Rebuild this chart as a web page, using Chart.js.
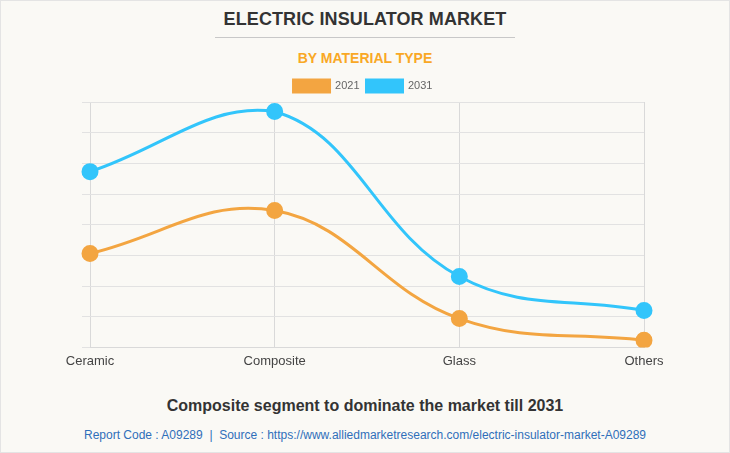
<!DOCTYPE html>
<html><head><meta charset="utf-8">
<script src="https://cdn.jsdelivr.net/npm/chart.js@4.4.0/dist/chart.umd.min.js"></script>
<style>
html,body{margin:0;padding:0;}
body{width:730px;height:453px;background:#faf9f5;position:relative;overflow:hidden;font-family:"Liberation Sans",Arial,sans-serif;}
#frame{position:absolute;left:0;top:0;width:728px;height:451px;border:1px solid #e4e4e4;}
#t1{position:absolute;top:9px;left:0;width:730px;text-align:center;font-weight:bold;font-size:18px;letter-spacing:0.1px;color:#333;}
#rule{position:absolute;top:37px;left:215px;width:300px;height:1px;background:#c8c8c8;}
#t2{position:absolute;top:50px;left:0;width:730px;text-align:center;font-weight:bold;font-size:14px;color:#f9a825;}
#wrap{position:absolute;left:0;top:73px;width:730px;height:302px;}
#t3{position:absolute;top:397px;left:0;width:730px;text-align:center;font-weight:bold;font-size:16px;color:#333;}
#t4{position:absolute;top:428px;left:0;width:730px;text-align:center;font-size:12px;color:#2f6fba;}
</style></head>
<body>
<div id="frame"></div>
<div id="t1">ELECTRIC INSULATOR MARKET</div>
<div id="rule"></div>
<div id="t2">BY MATERIAL TYPE</div>
<div id="wrap"><canvas id="c" width="730" height="302"></canvas></div>
<div id="t3">Composite segment to dominate the market till 2031</div>
<div id="t4">Report Code : A09289 &nbsp;|&nbsp; Source : https://www.alliedmarketresearch.com/electric-insulator-market-A09289</div>
<script>
const categories = ["Ceramic", "Composite", "Glass", "Others"];
const seriesNames = ["2021", "2031"];
const values2021 = [3.06, 4.46, 0.94, 0.23];
const values2031 = [5.73, 7.69, 2.31, 1.20];
const orange = "#f3a541";
const blue = "#32c5fb";
new Chart(document.getElementById("c"), {
  type: "line",
  data: {
    labels: categories,
    datasets: [
      {label: seriesNames[0], data: values2021, borderColor: orange, backgroundColor: orange, pointBackgroundColor: orange, pointBorderColor: orange, borderWidth: 3, pointRadius: 7, tension: 0.4, fill: false},
      {label: seriesNames[1], data: values2031, borderColor: blue, backgroundColor: blue, pointBackgroundColor: blue, pointBorderColor: blue, borderWidth: 3, pointRadius: 7, tension: 0.4, fill: false}
    ]
  },
  options: {
    responsive: false,
    animation: false,
    layout: {padding: {left: 82, right: 86, top: 0, bottom: 0}},
    plugins: {
      legend: {display: true, labels: {boxWidth: 36, boxHeight: 12, font: {size: 11, family: "Liberation Sans"}, color: "#666", padding: 7}},
      tooltip: {enabled: false}
    },
    scales: {
      x: {
        offset: false,
        grid: {color: "#d9d9d9", drawTicks: false},
        border: {color: "#d9d9d9"},
        ticks: {font: {size: 13, family: "Liberation Sans"}, color: "#444", padding: 6}
      },
      y: {
        min: 0, max: 8,
        ticks: {stepSize: 1, display: false},
        grid: {color: "#e2e2e2", tickLength: 8},
        border: {display: false}
      }
    }
  }
});
</script>
</body></html>
